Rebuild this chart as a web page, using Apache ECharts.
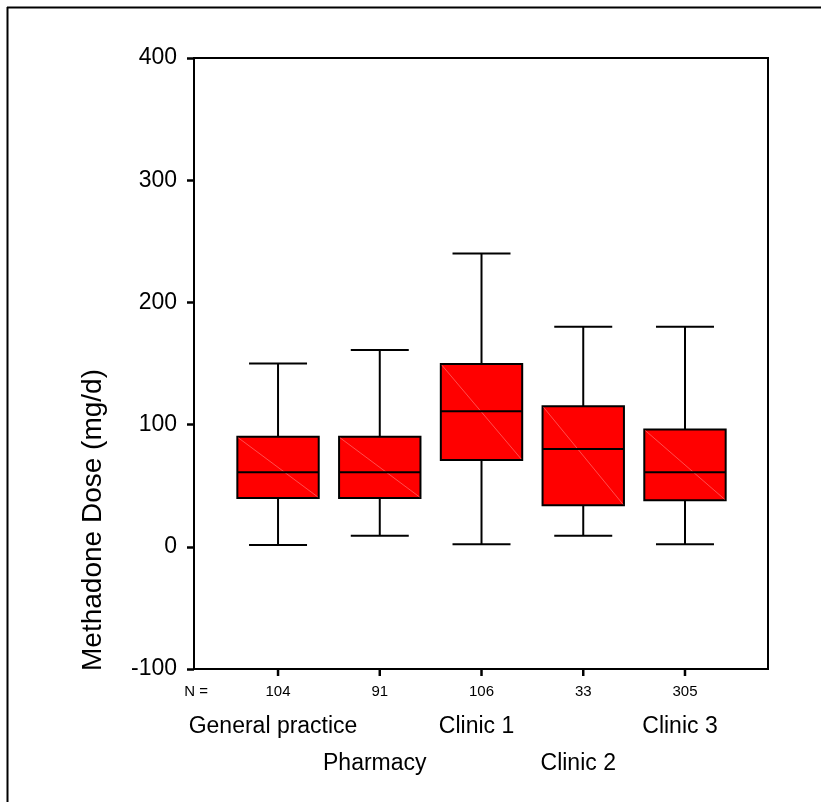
<!DOCTYPE html>
<html>
<head>
<meta charset="utf-8">
<script src="https://cdn.jsdelivr.net/npm/echarts@6/dist/echarts.min.js"></script>
<style>
html,body{margin:0;padding:0;background:#fff;}
#chart{width:821px;height:802px;}
</style>
</head>
<body>
<div id="chart"></div>
<script>
// ---- data ----
var categories = ['General practice', 'Pharmacy', 'Clinic 1', 'Clinic 2', 'Clinic 3'];
var positions = [1, 2, 3, 4, 5];
var nValues = [104, 91, 106, 33, 305];
var whiskerLow = [1.5, 9, 2, 9, 2];
var q1 = [40, 40, 71, 34, 38];
var median = [61, 61, 111, 80, 61];
var q3 = [90, 90, 149.5, 115, 96];
var whiskerHigh = [150, 161, 240, 180, 180];
var yMin = -100, yMax = 400, yStep = 100;
var nLabel = 'N =';
var nLabelPos = 0.194;

var FONT = 'Liberation Sans, Arial, Helvetica, sans-serif';

var boxData = positions.map(function (p, i) {
  return [p, whiskerLow[i], q1[i], median[i], q3[i], whiskerHigh[i]];
});
var row1Pos = positions.filter(function (p, i) { return i % 2 === 0; });
var row2Pos = positions.filter(function (p, i) { return i % 2 === 1; });

var chart = echarts.init(document.getElementById('chart'));

function renderBox(params, api) {
  var x = api.value(0);
  var lo = api.coord([x, api.value(1)]);
  var b1 = api.coord([x, api.value(2)]);
  var md = api.coord([x, api.value(3)]);
  var b3 = api.coord([x, api.value(4)]);
  var hi = api.coord([x, api.value(5)]);
  var base = api.coord([x, yMin]);
  var halfBox = api.size([0.4, 0])[0];
  var halfCap = api.size([0.285, 0])[0];
  var cx = lo[0];
  var lineStyle = { stroke: '#000', lineWidth: 2, fill: null };
  return {
    type: 'group',
    children: [
      // axis tick below the category
      { type: 'line', shape: { x1: cx, y1: base[1], x2: cx, y2: base[1] + 7 }, style: { stroke: '#000', lineWidth: 2.5 } },
      { type: 'line', shape: { x1: cx, y1: hi[1], x2: cx, y2: b3[1] }, style: lineStyle },
      { type: 'line', shape: { x1: cx, y1: b1[1], x2: cx, y2: lo[1] }, style: lineStyle },
      { type: 'line', shape: { x1: cx - halfCap, y1: hi[1], x2: cx + halfCap, y2: hi[1] }, style: lineStyle },
      { type: 'line', shape: { x1: cx - halfCap, y1: lo[1], x2: cx + halfCap, y2: lo[1] }, style: lineStyle },
      { type: 'rect', shape: { x: cx - halfBox, y: b3[1], width: halfBox * 2, height: b1[1] - b3[1] },
        style: { fill: '#ff0000', stroke: '#000', lineWidth: 2 } },
      { type: 'line', shape: { x1: cx - halfBox + 1, y1: b3[1] + 1, x2: cx + halfBox - 1, y2: b1[1] - 1 },
        style: { stroke: '#ff7070', lineWidth: 0.7 } },
      { type: 'line', shape: { x1: cx - halfBox, y1: md[1], x2: cx + halfBox, y2: md[1] }, style: lineStyle }
    ]
  };
}

function nameAxis(vals, margin) {
  return {
    type: 'value', min: 0.174, max: 5.816, position: 'bottom', gridIndex: 0,
    axisLine: { show: false },
    axisTick: { show: false },
    splitLine: { show: false },
    axisLabel: {
      show: true, margin: margin, color: '#000', fontFamily: FONT, fontSize: 23,
      padding: [0, 10, 0, 0],
      showMinLabel: true, showMaxLabel: true, hideOverlap: false,
      customValues: vals,
      formatter: function (v) { return categories[Math.round(v) - 1]; }
    }
  };
}

var option = {
  animation: false,
  backgroundColor: '#fff',
  grid: { left: 194, right: 53, top: 58, bottom: 133, show: true, borderColor: '#000', borderWidth: 2, backgroundColor: 'transparent' },
  graphic: [
    { type: 'line', shape: { x1: 7, y1: 7.5, x2: 821, y2: 7.5 }, style: { stroke: '#000', lineWidth: 2 } },
    { type: 'line', shape: { x1: 7.5, y1: 7, x2: 7.5, y2: 802 }, style: { stroke: '#000', lineWidth: 2 } }
  ],
  xAxis: [
    {
      type: 'value', min: 0.174, max: 5.816, position: 'bottom',
      axisLine: { show: true, onZero: false, lineStyle: { color: '#000', width: 2 } },
      axisTick: { show: false },
      splitLine: { show: false },
      axisLabel: {
        show: true, margin: 15, color: '#000', fontFamily: FONT, fontSize: 15,
        showMinLabel: true, showMaxLabel: true, hideOverlap: false,
        customValues: [nLabelPos].concat(positions),
        formatter: function (v) {
          if (v < 0.5) return nLabel;
          return String(nValues[Math.round(v) - 1]);
        }
      }
    },
    nameAxis(row1Pos, 46),
    nameAxis(row2Pos, 83)
  ],
  yAxis: {
    type: 'value', min: yMin, max: yMax, interval: yStep,
    name: 'Methadone Dose (mg/d)', nameLocation: 'middle', nameGap: 87, nameRotate: 90,
    nameTextStyle: { color: '#000', fontFamily: FONT, fontSize: 28, padding: [0, 313, 0, 0] },
    axisLine: { show: true, onZero: false, lineStyle: { color: '#000', width: 2 } },
    axisTick: { show: true, inside: false, length: 7, lineStyle: { color: '#000', width: 2.5 } },
    splitLine: { show: false },
    axisLabel: {
      margin: 17, color: '#000', fontFamily: FONT, fontSize: 23,
      showMinLabel: true, showMaxLabel: true
    }
  },
  series: [{
    type: 'custom',
    xAxisIndex: 0,
    yAxisIndex: 0,
    renderItem: renderBox,
    encode: { x: 0, y: [1, 2, 3, 4, 5] },
    data: boxData,
    clip: false
  }]
};
chart.setOption(option);
</script>
</body>
</html>
